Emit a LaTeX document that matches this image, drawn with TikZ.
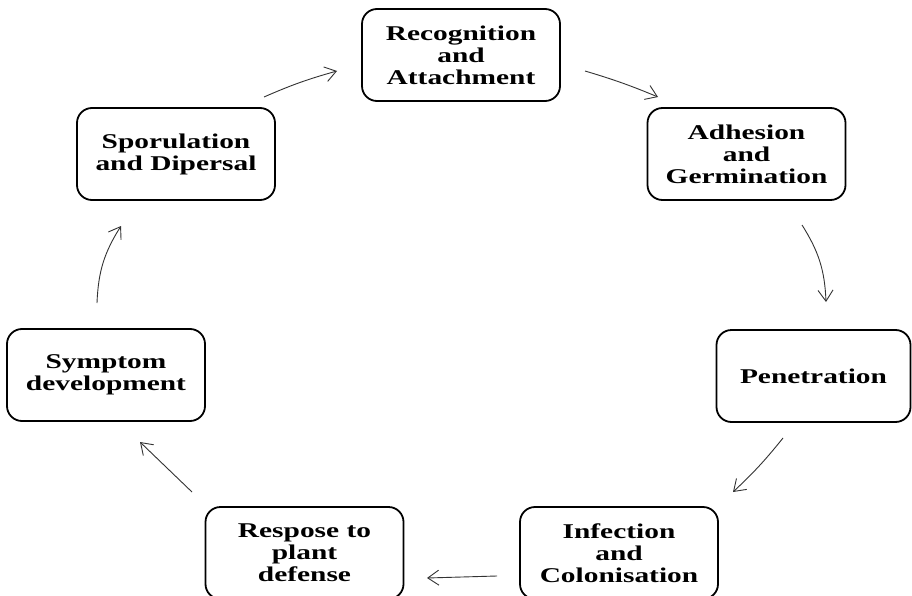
\documentclass[tikz,border=0pt]{standalone}
\usepackage{fontspec}
\newfontfamily\boxfont{Liberation Serif}[FakeStretch=1.4]
\usetikzlibrary{arrows.meta}
\tikzset{
  stage/.style={draw=black, line width=1.8pt, rounded corners=15pt,
    minimum width=198pt, minimum height=92pt, align=center, inner sep=0pt,
    font=\boxfont\bfseries\fontsize{21}{22}\selectfont},
  flow/.style={draw=black!80, line width=0.9pt,
    -{Straight Barb[length=11pt,width=15pt,line width=0.9pt]}}
}
\begin{document}
\begin{tikzpicture}[x=1pt,y=-1pt]
\clip (0,0) rectangle (912,596);
\fill[white] (0,0) rectangle (912,596);
\node[stage] (rec) at (461,55) {Recognition\\and\\Attachment};
\node[stage] (adh) at (746.5,154) {Adhesion\\and\\Germination};
\node[stage, minimum width=194pt] (pen) at (813.5,376) {Penetration};
\node[stage] (inf) at (619,553) {Infection\\and\\Colonisation};
\node[stage] (res) at (304.5,553) {Respose to\\plant\\defense};
\node[stage] (sym) at (106,375) {Symptom\\development};
\node[stage] (spo) at (176,154) {Sporulation\\and Dipersal};
\coordinate (a1s) at (264,97);  \coordinate (a1e) at (337,71);
\coordinate (a2s) at (585,71);  \coordinate (a2e) at (658,97);
\coordinate (a3s) at (802,225); \coordinate (a3e) at (826,302);
\coordinate (a4s) at (783,438); \coordinate (a4e) at (733,492);
\coordinate (a5s) at (497,576); \coordinate (a5e) at (427,578);
\coordinate (a6s) at (192,492); \coordinate (a6e) at (140,442);
\coordinate (a7s) at (97,303);  \coordinate (a7e) at (121,226);
\draw[flow] (a1s) to[bend left=4] (a1e);
\draw[flow] (a2s) to[bend left=3] (a2e);
\draw[flow] (a3s) to[bend left=15] (a3e);
\draw[flow] (a4s) to[bend left=4] (a4e);
\draw[flow] (a5s) -- (a5e);
\draw[flow] (a6s) -- (a6e);
\draw[flow] (a7s) to[bend left=15] (a7e);
\end{tikzpicture}
\end{document}
